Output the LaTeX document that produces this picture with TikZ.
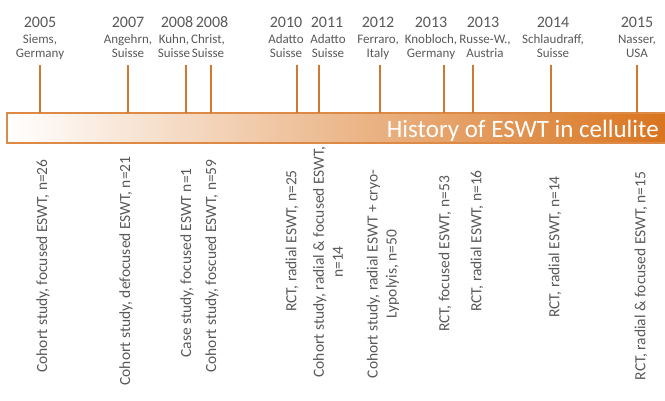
\documentclass[tikz,border=0pt]{standalone}
\usepackage{fontspec}
\setmainfont{Carlito}
\begin{document}
\begin{tikzpicture}[x=1pt,y=-1pt,
  yearlbl/.style={text=txtgray,font=\fontsize{16}{16}\selectfont,inner sep=0pt,anchor=base},
  placelbl/.style={text=txtgray,font=\fontsize{13}{14}\selectfont,inner sep=0pt,align=center,anchor=base},
  studylbl/.style={text=txtgray,font=\fontsize{15.5}{19}\selectfont,inner sep=0pt,align=center,rotate=90,anchor=center},
  tick/.style={draw=tickor,line width=1.8pt}]
\definecolor{txtgray}{HTML}{595959}
\definecolor{tickor}{HTML}{D2772F}
\definecolor{barright}{HTML}{D9741E}
\definecolor{barborder}{HTML}{DC8A45}
\useasboundingbox (0,0) rectangle (665,400);
% bar
\shade[left color=white, right color=barright] (7,113) rectangle (666,143);
\draw[barborder,line width=1.2pt] (666,113) -- (7,113) -- (7,143) -- (666,143);
\node[text=white,font=\fontsize{25}{25}\selectfont,inner sep=0pt,anchor=base east] (title) at (659,137) {History of ESWT in cellulite};
% tick anchors on the bar
\foreach \n/\x in {a/40,b/128,c/186,d/211,e/297,f/319,g/380,h/444,i/473,j/551,k/637}{
  \coordinate (top\n) at (\x,65);
  \coordinate (bar\n) at (\x,113);
  \draw[tick] (top\n) -- (bar\n);
}
% years and places
\node[yearlbl] (ya) at (40,27) {2005};
\node[placelbl] (pa) at (40,57) {Siems,\\Germany};
\node[yearlbl] (yb) at (128,27) {2007};
\node[placelbl] (pb) at (128,57) {Angehrn,\\Suisse};
\node[yearlbl] (yc) at (177,27) {2008};
\node[placelbl] (pc) at (174,57) {Kuhn,\\Suisse};
\node[yearlbl] (yd) at (212,27) {2008};
\node[placelbl] (pd) at (208,57) {Christ,\\Suisse};
\node[yearlbl] (ye) at (286,27) {2010};
\node[placelbl] (pe) at (286,57) {Adatto\\Suisse};
\node[yearlbl] (yf) at (327,27) {2011};
\node[placelbl] (pf) at (328,57) {Adatto\\Suisse};
\node[yearlbl] (yg) at (378,27) {2012};
\node[placelbl] (pg) at (378,57) {Ferraro,\\Italy};
\node[yearlbl] (yh) at (431,27) {2013};
\node[placelbl] (ph) at (431,57) {Knobloch,\\Germany};
\node[yearlbl] (yi) at (483,27) {2013};
\node[placelbl] (pi) at (485,57) {Russe-W.,\\Austria};
\node[yearlbl] (yj) at (553,27) {2014};
\node[placelbl] (pj) at (553,57) {Schlaudraff,\\Suisse};
\node[yearlbl] (yk) at (637,27) {2015};
\node[placelbl] (pk) at (637,57) {Nasser,\\USA};
% studies
\node[studylbl] (sa) at (43,266) {Cohort study, focused ESWT, n=26};
\node[studylbl] (sb) at (126,271) {Cohort study, defocused ESWT, n=21};
\node[studylbl] (sc) at (187,263) {Case study, focused ESWT n=1};
\node[studylbl] (sd) at (212,266) {Cohort study, foscued ESWT, n=59};
\node[studylbl] (se) at (292,241) {RCT, radial ESWT, n=25};
\node[studylbl] (sf) at (328,262) {Cohort study, radial \& focused ESWT,\\n=14};
\node[studylbl] (sg) at (383,274) {Cohort study, radial ESWT + cryo-\\Lypolyis, n=50};
\node[studylbl] (sh) at (445,254) {RCT, focused ESWT, n=53};
\node[studylbl] (si) at (477,241) {RCT, radial ESWT, n=16};
\node[studylbl] (sj) at (555,247) {RCT, radial ESWT, n=14};
\node[studylbl] (sk) at (641,276) {RCT, radial \& focused ESWT, n=15};
\end{tikzpicture}
\end{document}
